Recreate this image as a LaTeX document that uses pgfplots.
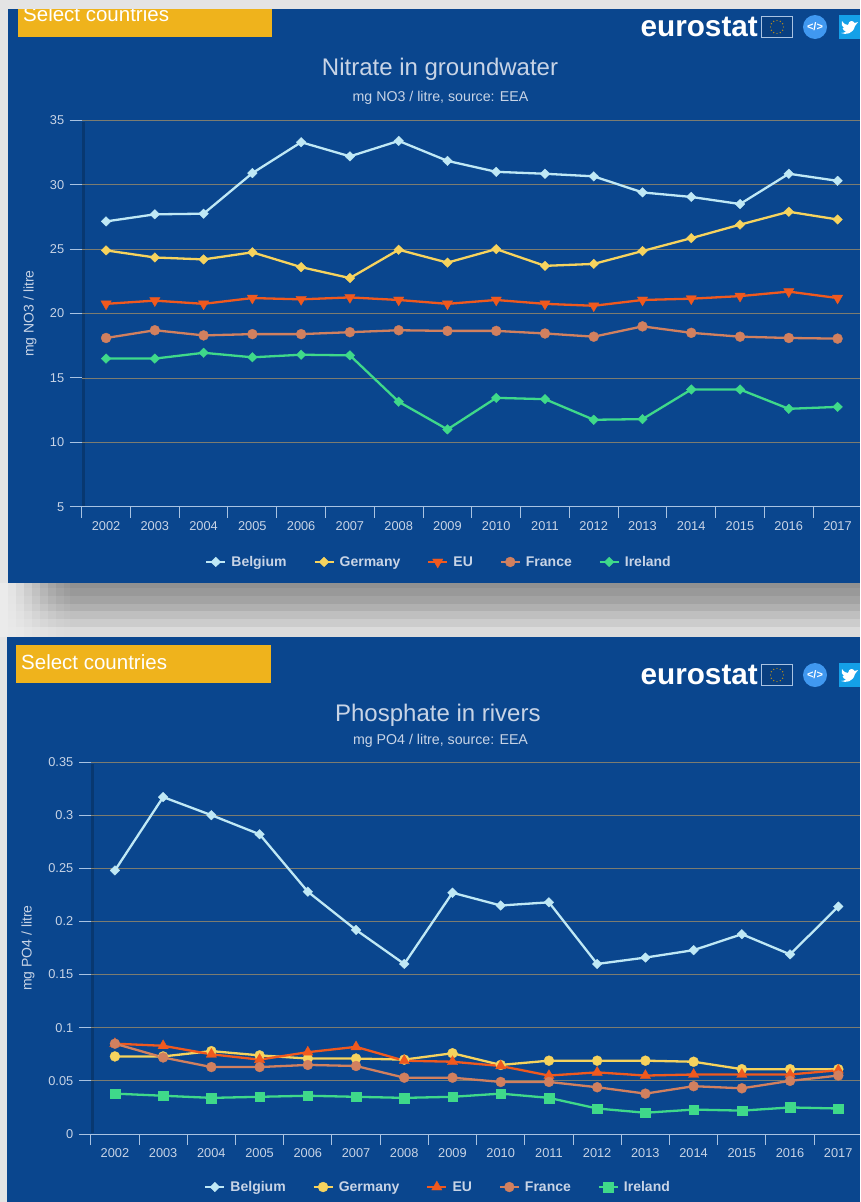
\documentclass[border=0pt]{standalone}
\usepackage{fontspec}
\usepackage{pgfplots}
\usepackage{pgfplotstable}
\pgfplotsset{compat=1.18}
\setmainfont{Liberation Sans}
\definecolor{panel}{HTML}{0A468E}
\definecolor{boxc}{HTML}{EFB31C}
\definecolor{txt}{HTML}{C8D4E6}
\definecolor{tickc}{HTML}{A9C3E2}
\definecolor{gridc}{HTML}{7C7C70}
\definecolor{page}{HTML}{E4E4E4}
\definecolor{cBE}{HTML}{BFE8F5}
\definecolor{cDE}{HTML}{F6D35E}
\definecolor{cEU}{HTML}{F0591E}
\definecolor{cFR}{HTML}{D1805F}
\definecolor{cIE}{HTML}{3FD98A}
\definecolor{ctw}{HTML}{14A0E8}
\definecolor{cemb}{HTML}{4098F0}

\pgfplotstableread{
year Belgium Germany EU France Ireland
2002 27.15 24.90 20.75 18.10 16.50
2003 27.70 24.35 21.00 18.70 16.50
2004 27.75 24.20 20.75 18.30 16.95
2005 30.90 24.75 21.20 18.40 16.60
2006 33.30 23.60 21.10 18.40 16.80
2007 32.20 22.75 21.25 18.55 16.75
2008 33.40 24.95 21.05 18.70 13.15
2009 31.85 23.95 20.75 18.65 11.00
2010 31.00 25.00 21.05 18.65 13.45
2011 30.85 23.70 20.75 18.45 13.35
2012 30.65 23.85 20.60 18.20 11.75
2013 29.40 24.85 21.05 19.00 11.80
2014 29.05 25.85 21.15 18.50 14.10
2015 28.50 26.90 21.35 18.20 14.10
2016 30.85 27.90 21.70 18.10 12.60
2017 30.30 27.30 21.20 18.05 12.75
}\nitrate

\pgfplotstableread{
year Belgium Germany EU France Ireland
2002 0.248 0.073 0.085 0.085 0.038
2003 0.317 0.073 0.083 0.072 0.036
2004 0.300 0.078 0.075 0.063 0.034
2005 0.282 0.074 0.070 0.063 0.035
2006 0.228 0.071 0.077 0.065 0.036
2007 0.192 0.071 0.082 0.064 0.035
2008 0.160 0.070 0.069 0.053 0.034
2009 0.227 0.076 0.068 0.053 0.035
2010 0.215 0.065 0.064 0.049 0.038
2011 0.218 0.069 0.055 0.049 0.034
2012 0.160 0.069 0.058 0.044 0.024
2013 0.166 0.069 0.055 0.038 0.020
2014 0.173 0.068 0.056 0.045 0.023
2015 0.188 0.061 0.056 0.043 0.022
2016 0.169 0.061 0.056 0.050 0.025
2017 0.214 0.061 0.060 0.055 0.024
}\phosphate

\pgfplotsset{
  eurochart/.style={
    scale only axis,
    anchor=south west,
    clip=false,
    axis x line*=bottom,
    axis y line*=left,
    separate axis lines,
    x axis line style={color=tickc,line width=1pt,-},
    y axis line style={draw=none,-},
    tick align=outside,
    xtick={2002,...,2017},
    xticklabels={2002,2003,2004,2005,2006,2007,2008,2009,2010,2011,2012,2013,2014,2015,2016,2017},
    minor xtick={2001.5,2002.5,...,2016.5},
    major x tick style={draw=none},
    minor x tick style={color=tickc,line width=1pt},
    minor tick length=11pt,
    major tick length=12pt,
    ytick style={color=tickc,line width=1pt},
    ymajorgrids=true,
    y grid style={color=gridc,line width=0.8pt},
    tick label style={color=txt,font=\fontsize{12.8}{14}\selectfont},
    xticklabel style={yshift=1pt},
    yticklabel style={xshift=-2pt},
    label style={color=txt,font=\fontsize{14}{16}\selectfont},
    title style={color=txt,font=\fontsize{24}{28}\selectfont,anchor=center},
    legend columns=5,
    legend cell align=left,
    legend style={draw=none,fill=none,anchor=center,text=txt,
      font=\bfseries\fontsize{14}{16}\selectfont,
      /tikz/every odd column/.append style={column sep=3pt},
      /tikz/every even column/.append style={column sep=24.75pt}},
    legend image code/.code={
      \draw[mark repeat=2,mark phase=2,##1] plot coordinates {(0pt,0pt)(9.5pt,0pt)(19pt,0pt)};
    },
  },
  sBE/.style={color=cBE,line width=2.3pt,mark=diamond*,mark size=4.8pt,mark options={solid,xscale=1.35,fill=cBE,draw=cBE,line width=0.3pt}},
  sDE/.style={color=cDE,line width=2.3pt,mark=diamond*,mark size=4.8pt,mark options={solid,xscale=1.35,fill=cDE,draw=cDE,line width=0.3pt}},
  sDEc/.style={color=cDE,line width=2.3pt,mark=*,mark size=5pt,mark options={solid,fill=cDE,draw=cDE,line width=0.3pt}},
  sEUd/.style={color=cEU,line width=2.3pt,mark=triangle*,mark size=6pt,mark options={solid,rotate=180,fill=cEU,draw=cEU,line width=0.3pt}},
  sEUu/.style={color=cEU,line width=2.3pt,mark=triangle*,mark size=6pt,mark options={solid,fill=cEU,draw=cEU,line width=0.3pt}},
  sFR/.style={color=cFR,line width=2.3pt,mark=*,mark size=5pt,mark options={solid,fill=cFR,draw=cFR,line width=0.3pt}},
  sIEd/.style={color=cIE,line width=2.3pt,mark=diamond*,mark size=4.8pt,mark options={solid,xscale=1.35,fill=cIE,draw=cIE,line width=0.3pt}},
  sIEs/.style={color=cIE,line width=2.3pt,mark=square*,mark size=4.8pt,mark options={solid,fill=cIE,draw=cIE,line width=0.3pt}},
}

\usetikzlibrary{calc}

\newcommand{\logos}[1]{%
  \begin{scope}[yshift=-#1pt]
    \node[anchor=east,text=white,inner sep=0pt,font=\bfseries\fontsize{29.7}{30}\selectfont] at (758,27) {eurostat};
    \fill[panel!90!black] (761,16) rectangle (793,38);
    \draw[color=tickc,line width=0.8pt] (761.5,16.5) rectangle (792.5,37.5);
    \foreach \a in {0,30,...,330}{\fill[boxc!80!black] ($(777,27)+(\a:6.5pt)$) circle (0.7pt);}
    \fill[cemb] (815,27) circle (12pt);
    \node[text=white,inner sep=0pt,font=\bfseries\fontsize{11}{12}\selectfont] at (815,27) {</>};
    \fill[ctw] (839,15) rectangle (860,39);
    \fill[white] (841,33) .. controls (846,35) and (853,34) .. (855,26) -- (858,22) -- (854.5,23) .. controls (853,20) and (849,20) .. (848,25)
       .. controls (846,25) and (844,24) .. (842,21) .. controls (841,24) and (842,27) .. (844,28) -- (842.5,28) .. controls (843,30) and (844,31) .. (846,31.5) .. controls (845,32.5) and (843,33) .. (841,33) -- cycle;
  \end{scope}}

\begin{document}
\begin{tikzpicture}[x=1pt,y=-1pt]
  \path[use as bounding box] (0,0) rectangle (860,1202);
  \fill[page] (0,0) rectangle (860,1202);
  % blurred shadow between the panels
  \def\rowlist{583/588/43,588/596/40,596/604/36,604/611/31,611/619/25,619/627/20,627/637/14}
  \foreach \ya/\yb/\v in \rowlist{
    \fill[black!\v!white] (70,\ya) rectangle (860,\yb);
    \foreach \xa/\xb/\w in {0/8/0,8/16/0.08,16/24/0.2,24/32/0.35,32/40/0.5,40/48/0.65,48/56/0.78,56/64/0.88,64/70/0.95}{
      \pgfmathsetmacro{\vv}{8+(\v-8)*\w}
      \fill[black!\vv!white] (\xa,\ya) rectangle (\xb,\yb);
    }
  }
  % panels
  \fill[panel] (8,9) rectangle (860,583);
  \fill[panel] (7,637) rectangle (860,1202);
  % select boxes
  \begin{scope}
    \clip (8,9) rectangle (860,583);
    \fill[boxc] (17.5,0) rectangle (272,37);
    \node[anchor=west,text=white,inner sep=0pt,font=\fontsize{20.5}{24}\selectfont] at (23,14.5) {Select countries};
  \end{scope}
  \fill[boxc] (15.5,645) rectangle (271,683);
  \node[anchor=west,text=white,inner sep=0pt,font=\fontsize{20.5}{24}\selectfont] at (21,662) {Select countries};
  \logos{0}
  \logos{648}
  % subtitles
  \node[text=txt,inner sep=0pt,font=\fontsize{14.2}{16}\selectfont] at (440.5,98) {mg NO3 / litre, source: EEA};
  \node[text=txt,inner sep=0pt,font=\fontsize{14.2}{16}\selectfont] at (440.5,741) {mg PO4 / litre, source: EEA};
  % dark y-axis bands
  \draw[panel!80!black,line width=2.5pt] (83.3,122) -- (83.3,506);
  \draw[panel!80!black,line width=2.5pt] (92.3,764) -- (92.3,1133);

  \begin{axis}[eurochart,
    at={(81.7pt,-506.7pt)},width=778.3pt,height=386.4pt,
    xmin=2001.5,xmax=2017.46,ymin=5,ymax=35,
    ytick={5,10,...,35},yticklabels={5,10,15,20,25,30,35},
    ylabel={mg NO3 / litre},
    ylabel style={at={(axis description cs:-0.0664,0.5)},anchor=center},
    title={Nitrate in groundwater},
    title style={at={(axis description cs:0.4604,1.117)}},
    legend style={at={(axis description cs:0.459,-0.143)}},
  ]
    \addplot[sBE] table[x=year,y=Belgium]{\nitrate};
    \addplot[sDE] table[x=year,y=Germany]{\nitrate};
    \addplot[sEUd] table[x=year,y=EU]{\nitrate};
    \addplot[sFR] table[x=year,y=France]{\nitrate};
    \addplot[sIEd] table[x=year,y=Ireland]{\nitrate};
    \legend{Belgium,Germany,EU,France,Ireland}
  \end{axis}

  \begin{axis}[eurochart,
    at={(90.8pt,-1134pt)},width=769.2pt,height=372pt,
    xmin=2001.5,xmax=2017.45,ymin=0,ymax=0.35,
    ytick={0,0.05,0.1,0.15,0.2,0.25,0.3,0.35},yticklabels={0,0.05,0.1,0.15,0.2,0.25,0.3,0.35},
    ylabel={mg PO4 / litre},
    ylabel style={at={(axis description cs:-0.0815,0.5)},anchor=center},
    title={Phosphate in rivers},
    title style={at={(axis description cs:0.4512,1.1108)}},
    legend style={at={(axis description cs:0.4514,-0.1425)}},
  ]
    \addplot[sBE] table[x=year,y=Belgium]{\phosphate};
    \addplot[sDEc] table[x=year,y=Germany]{\phosphate};
    \addplot[sEUu] table[x=year,y=EU]{\phosphate};
    \addplot[sFR] table[x=year,y=France]{\phosphate};
    \addplot[sIEs] table[x=year,y=Ireland]{\phosphate};
    \legend{Belgium,Germany,EU,France,Ireland}
  \end{axis}
\end{tikzpicture}
\end{document}
